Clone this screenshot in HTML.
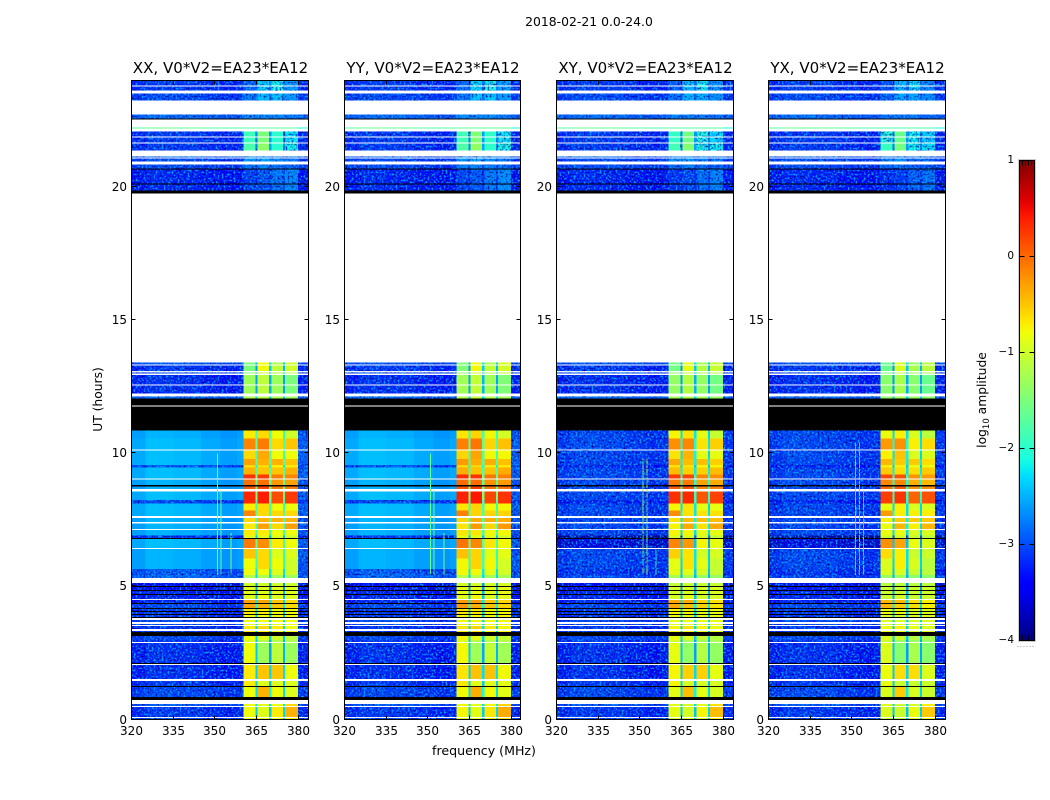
<!DOCTYPE html>
<html lang="en">
<head>
<meta charset="utf-8">
<title>Spectrogram 2018-02-21</title>
<style>
html,body{margin:0;padding:0;background:#fff;width:1050px;height:800px;overflow:hidden}
svg{display:block}
text{font-family:"DejaVu Sans","Liberation Sans",sans-serif;fill:#000}
</style>
</head>
<body>
<svg id="chart" xmlns="http://www.w3.org/2000/svg" width="1050" height="800" viewBox="0 0 1050 800">
  <defs>
    <filter id="speckle" filterUnits="objectBoundingBox" x="0" y="0" width="1" height="1" color-interpolation-filters="sRGB">
      <feTurbulence type="fractalNoise" baseFrequency="0.5" numOctaves="1" seed="3"/>
      <feColorMatrix type="matrix" values="0 0 0 0 0  0 0 0 0 0.62  0 0 0 0 1  4 0 0 0 -1.85"/>
    </filter>
    <filter id="speckle-dark" filterUnits="objectBoundingBox" x="0" y="0" width="1" height="1" color-interpolation-filters="sRGB">
      <feTurbulence type="fractalNoise" baseFrequency="0.5" numOctaves="1" seed="11"/>
      <feColorMatrix type="matrix" values="0 0 0 0 0  0 0 0 0 0  0 0 0 0 0.55  3 0 0 0 -1.5"/>
    </filter>
    <linearGradient id="jet-gradient" x1="0" y1="1" x2="0" y2="0"></linearGradient>
  </defs>
  <rect x="0" y="0" width="1050" height="800" fill="#fff"/>
  <text x="589" y="26" font-size="12.4" text-anchor="middle">2018-02-21 0.0-24.0</text>
  <text x="484" y="755" font-size="12.6" text-anchor="middle">frequency (MHz)</text>
  <text transform="translate(102,399.5) rotate(-90)" font-size="12.3" text-anchor="middle">UT (hours)</text>
  <text transform="translate(986,400) rotate(-90)" font-size="12.3" text-anchor="middle">log<tspan font-size="8.5" dy="3">10</tspan><tspan dy="-3"> amplitude</tspan></text>
  <g id="panels"></g>
  <g id="colorbar"></g>
</svg>
<script>
// ---- data ----
const panelTitles = ["XX, V0*V2=EA23*EA12", "YY, V0*V2=EA23*EA12", "XY, V0*V2=EA23*EA12", "YX, V0*V2=EA23*EA12"];
const panelLefts = [131.5, 344.5, 556.5, 768.5];
const panelWidths = [177, 176, 177, 177];
const panelBandShift = [0, 0.03, -0.05, -0.12];
const xTickLabels = [320, 335, 350, 365, 380];
const yTickLabels = [0, 5, 10, 15, 20];
const colorbarTicks = [1, 0, -1, -2, -3, -4];

// channel edges in MHz, and which column of a time row each channel reads
const channelEdges = [320, 325, 335, 345, 352, 358, 360.4, 364.6, 365.4, 369.6, 370.4, 374.6, 375.4, 380, 384];
const channelSource = ["bg", "bg", "bg", "bg", "bg", "bg", 0, "gap", 1, "gap", 2, "gap", 3, "tail"];
const backgroundShape = [-0.05, 0.06, 0.03, -0.04, -0.1, -0.05];

const W = null;   // no data: left white
const K = -9;     // flagged: drawn black

// [startHour, endHour, co-pol background, cross-pol background, band 1, band 2, band 3, band 4]
const timeRows = [
 [24.00,23.81,-3.2,-3.2,-2.9,-2.3,-2.1,-2.6],[23.81,23.77,W],[23.77,23.62,-3.2,-3.2,-2.9,-2.3,-2.1,-2.6],[23.62,23.51,W],
 [23.51,23.25,-3.1,-3.1,-2.8,-2.4,-2.4,-2.6],[23.25,22.72,W],[22.72,22.57,-2.9,-2.9,-2.7,-2.7,-2.7,-2.8],[22.57,22.53,K],
 [22.53,22.23,W],[22.23,22.20,-1.7,-1.7,-1.7,-1.7,-1.7,-1.7],[22.20,22.09,W],[22.09,21.90,-3.2,-3.2,-1.9,-1.5,-2.0,-2.2],
 [21.90,21.86,W],[21.86,21.67,-3.2,-3.2,-1.9,-1.5,-2.0,-2.2],[21.67,21.63,W],[21.63,21.37,-3.2,-3.2,-1.8,-1.4,-2.0,-2.1],
 [21.37,21.15,W],[21.15,21.11,-3.0,-3.0,-2.7,-2.7,-2.7,-2.8],[21.11,21.07,W],[21.07,20.96,-3.1,-3.1,-2.6,-2.5,-2.7,-2.8],
 [20.96,20.84,W],[20.84,20.69,-3.1,-3.1,-2.8,-2.7,-2.8,-2.9],[20.69,20.65,K],[20.65,20.13,-3.3,-3.3,-3.1,-3.0,-2.8,-2.7],
 [20.13,20.09,K],[20.09,19.87,-3.3,-3.3,-3.1,-3.0,-2.8,-2.7],[19.87,19.76,K],[19.76,13.41,W],
 [13.41,13.34,-3.0,-3.0,-1.5,-0.8,-1.2,-1.0],[13.34,13.30,W],[13.30,13.08,-3.2,-3.2,-1.5,-0.8,-1.1,-1.0],[13.08,13.04,W],
 [13.04,13.00,-3.1,-3.1,-1.4,-1.0,-1.2,-1.1],[13.00,12.93,W],[12.93,12.59,-3.25,-3.25,-1.3,-1.1,-1.3,-1.5],[12.59,12.55,W],
 [12.55,12.25,-3.25,-3.25,-1.3,-1.1,-1.3,-1.5],[12.25,12.14,W],[12.14,12.06,-2.9,-2.9,-1.2,-1.1,-1.2,-1.3],[12.06,11.80,K],
 [11.80,11.76,W],[11.76,10.86,K],
 [10.86,10.55,-2.55,-3.1,-0.7,-0.6,-0.8,-1.0],[10.55,10.15,-2.5,-3.1,-0.15,-0.1,-0.6,-0.5],[10.15,10.11,W],
 [10.11,9.78,-2.5,-3.1,-0.6,-0.35,-0.8,-0.8],[9.78,9.55,-2.5,-3.1,-0.3,-0.4,-0.4,-0.5],[9.55,9.47,-3.0,-3.3,-0.6,-0.6,-0.7,-0.7],
 [9.47,9.20,-2.5,-3.1,-0.4,-0.5,-0.5,-0.4],[9.20,9.06,-2.5,-3.1,0.3,0.25,-0.1,-0.15],[9.06,9.02,W],
 [9.02,8.80,-2.55,-3.1,-0.05,-0.05,-0.25,-0.3],[8.80,8.76,K],[8.76,8.65,-2.55,-3.1,0.1,0.2,-0.1,-0.1],[8.65,8.57,W],
 [8.57,8.24,-2.5,-3.1,0.35,0.4,0.15,0.25],[8.24,8.12,-3.1,-3.3,0.35,0.4,0.15,0.25],[8.12,7.85,-2.5,-3.1,-0.7,-0.6,-0.8,-0.8],
 [7.85,7.64,-2.5,-3.1,-0.15,-0.6,-0.6,-0.6],[7.64,7.56,W],[7.56,7.41,-2.55,-3.1,-0.6,-0.4,-0.4,-0.4],[7.41,7.37,W],
 [7.37,7.15,-2.55,-3.1,-0.7,-0.3,-0.6,-0.3],[7.15,7.11,W],[7.11,6.92,-2.55,-3.1,-0.7,-0.7,-0.8,-0.8],
 [6.92,6.81,-3.2,-3.9,-0.9,-0.9,-0.9,-1.0],[6.81,6.77,K],[6.77,6.44,-2.5,-3.6,-0.1,-0.2,-0.7,-0.8],[6.44,6.40,W],
 [6.40,6.05,-2.55,-3.1,-0.5,-0.6,-0.9,-0.9],[6.05,5.65,-2.55,-3.1,-0.8,-0.6,-0.8,-1.0],[5.65,5.42,-3.0,-3.2,-0.8,-0.8,-0.9,-1.0],
 [5.42,5.31,-2.9,-3.1,-1.2,-1.2,-1.3,-1.3],[5.31,5.12,W],
 [5.12,5.01,-3.5,-3.5,-1.0,-1.0,-1.0,-1.0],[5.01,4.97,K],[4.97,4.86,-3.5,-3.5,-0.9,-0.9,-0.9,-0.9],[4.86,4.82,K],
 [4.82,4.71,-3.3,-3.3,-0.9,-0.9,-0.9,-0.9],[4.71,4.67,K],[4.67,4.52,-3.3,-3.3,-0.9,-0.8,-0.9,-0.9],[4.52,4.48,W],
 [4.48,4.37,-3.3,-3.3,-0.3,-0.3,-0.5,-0.6],[4.37,4.33,K],[4.33,4.18,-3.1,-3.1,-0.3,-0.4,-0.5,-0.6],[4.18,4.15,K],
 [4.15,4.07,-3.2,-3.2,-0.7,-0.7,-0.8,-0.8],[4.07,4.03,K],[4.03,3.96,-3.2,-3.2,-0.7,-0.7,-0.8,-0.8],[3.96,3.92,K],
 [3.92,3.85,-3.2,-3.2,-0.8,-0.8,-0.8,-0.8],[3.85,3.81,K],[3.81,3.73,W],[3.73,3.66,-3.1,-3.1,-0.8,-0.8,-0.8,-0.8],
 [3.66,3.58,W],[3.58,3.55,-3.1,-3.1,-0.8,-0.8,-0.8,-0.8],[3.55,3.51,W],[3.51,3.40,-3.2,-3.2,-0.7,-0.6,-0.7,-0.8],
 [3.40,3.32,W],[3.32,3.28,-3.2,-3.2,-0.7,-0.7,-0.8,-0.8],[3.28,3.13,K],[3.13,2.98,-3.1,-3.1,-0.8,-0.9,-1.0,-1.1],
 [2.98,2.91,-3.2,-3.2,-0.9,-1.2,-1.2,-1.2],[2.91,2.87,W],[2.87,2.12,-3.25,-3.25,-0.8,-1.3,-1.1,-1.3],[2.12,2.08,K],
 [2.08,2.05,W],[2.05,1.52,-3.25,-3.25,-0.7,-0.5,-0.5,-0.8],[1.52,1.44,W],[1.44,1.26,-3.2,-3.2,-0.7,-0.9,-0.9,-0.9],
 [1.26,1.22,K],[1.22,0.84,-3.1,-3.1,-0.8,-0.4,-0.8,-0.9],[0.84,0.73,K],[0.73,0.58,W],[0.58,0.51,-3.0,-3.0,-0.8,-0.9,-0.8,-0.6],
 [0.51,0.47,W],[0.47,0.09,-3.2,-3.2,-0.8,-0.9,-0.7,-0.4],[0.09,0.06,W],[0.06,0.00,-3.1,-3.1,-0.9,-0.9,-0.8,-0.7]
];

// narrow interference lines: panel index, MHz, start hour, end hour, level
const rfiPanels = [0, 0, 0, 1, 1, 1, 2, 2, 2, 3, 3, 3];
const rfiFreqs  = [350.9, 352, 355.7, 350.9, 352, 355.7, 351, 352.4, 355.7, 351.2, 352.6, 354];
const rfiStarts = [5.42, 5.42, 5.42, 5.42, 5.42, 5.42, 5.42, 5.42, 5.42, 5.42, 5.42, 5.42];
const rfiEnds   = [10.0, 8.6, 7.0, 10.0, 8.6, 7.0, 9.8, 9.8, 6.4, 10.4, 10.4, 8.6];
const rfiLevels = [-1.6, -1.6, -1.5, -1.6, -1.6, -1.5, -1.3, -1.2, -1.9, -1.6, -1.7, -2.0];

// ---- axes ----
const PANEL_TOP = 80.5, PANEL_H = 639;
const xOf = function (mhz, left) { return left + (mhz - 320) * 2.775; };
const yOf = function (hour) { return PANEL_TOP + PANEL_H * (24 - hour) / 24; };
const SVG_NS = "http://www.w3.org/2000/svg";

function jetChannel(t, knots) {
  for (let i = 1; i < knots.length; i++) {
    if (t <= knots[i][0]) {
      const a = knots[i - 1], b = knots[i];
      return a[1] + (b[1] - a[1]) * (t - a[0]) / (b[0] - a[0]);
    }
  }
  return knots[knots.length - 1][1];
}
function jet(level) {
  const t = Math.max(0, Math.min(1, (level + 4) / 5));
  const r = jetChannel(t, [[0, 0], [0.35, 0], [0.66, 1], [0.89, 1], [1, 0.5]]);
  const g = jetChannel(t, [[0, 0], [0.125, 0], [0.375, 1], [0.64, 1], [0.91, 0], [1, 0]]);
  const b = jetChannel(t, [[0, 0.5], [0.11, 1], [0.34, 1], [0.65, 0], [1, 0]]);
  return "rgb(" + Math.round(r * 255) + "," + Math.round(g * 255) + "," + Math.round(b * 255) + ")";
}
function make(parent, tag, attrs) {
  const el = document.createElementNS(SVG_NS, tag);
  for (const k in attrs) el.setAttribute(k, attrs[k]);
  parent.appendChild(el);
  return el;
}

const panelsRoot = document.getElementById("panels");
const defs = document.querySelector("defs");

panelTitles.forEach(function (title, p) {
  const left = panelLefts[p];
  const PANEL_W = panelWidths[p];
  const isCross = p >= 2;
  const g = make(panelsRoot, "g", {});
  
  

  const clip = make(defs, "clipPath", { id: "speckle-clip-" + p });
  const cells = make(g, "g", { "shape-rendering": "crispEdges" });
  
  

  timeRows.forEach(function (row) {
    const y0 = yOf(row[0]), y1 = yOf(row[1]);
    const kind = row[2];
    if (kind === null) return;
    if (kind === K) {
      const blackRow = make(cells, "rect", { x: left, y: y0, width: PANEL_W, height: y1 - y0, fill: "#000" });
      
      
      return;
    }
    const bg = isCross ? row[3] : row[2];
    channelSource.forEach(function (src, c) {
      let level;
      if (src === "bg") level = bg + backgroundShape[c];
      else if (src === "tail") level = bg - (bg > -2.8 ? 0.45 : 0.05);
      else if (src === "gap") level = bg + 0.35 * (row[4 + (c - 7) / 2] + panelBandShift[p] - bg);
      else level = row[4 + src] + panelBandShift[p];
      const x0 = xOf(channelEdges[c], left);
      const x1 = Math.min(xOf(channelEdges[c + 1], left), left + PANEL_W);
      const cell = make(cells, "rect", { x: x0, y: y0, width: x1 - x0, height: y1 - y0, fill: jet(level) });
      
      
      const noisy = (typeof src === "number") ? level < -2.0 : level < -2.7;
      if (noisy) make(clip, "rect", { x: x0, y: y0, width: x1 - x0, height: y1 - y0 });
    });
  });

  rfiFreqs.forEach(function (mhz, i) {
    if (rfiPanels[i] !== p) return;
    const y0 = yOf(rfiEnds[i]), y1 = yOf(rfiStarts[i]);
    const line = make(cells, "rect", { x: xOf(mhz, left), y: y0, width: 1, height: y1 - y0, fill: jet(rfiLevels[i]) });
    
    
  });

  const speckleWrap = make(g, "g", { "clip-path": "url(#speckle-clip-" + p + ")" });
  
  
  make(speckleWrap, "rect", { x: left, y: PANEL_TOP, width: PANEL_W, height: PANEL_H, fill: "#000", filter: "url(#speckle)" });
  make(speckleWrap, "rect", { x: left, y: PANEL_TOP, width: PANEL_W, height: PANEL_H, fill: "#000", filter: "url(#speckle-dark)" });

  const frame = make(g, "rect", { x: left, y: PANEL_TOP, width: PANEL_W, height: PANEL_H, fill: "none", stroke: "#000", "stroke-width": 1, "shape-rendering": "crispEdges" });
  
  

  const titleEl = make(g, "text", { x: left + PANEL_W / 2 + 0.5, y: 73, "font-size": 15.05, "text-anchor": "middle" });
  titleEl.textContent = title;
  
  

  xTickLabels.forEach(function (v) {
    const x = Math.floor(xOf(v, left)) + 0.5;
    const tb = make(g, "line", { x1: x, x2: x, y1: PANEL_TOP + PANEL_H, y2: PANEL_TOP + PANEL_H - 4, stroke: "#000", "shape-rendering": "crispEdges" });
    
    
    const tt = make(g, "line", { x1: x, x2: x, y1: PANEL_TOP, y2: PANEL_TOP + 4, stroke: "#000", "shape-rendering": "crispEdges" });
    
    
    const lab = make(g, "text", { x: x, y: 735, "font-size": 12, "text-anchor": "middle" });
    lab.textContent = String(v);
    
    
  });

  yTickLabels.forEach(function (v) {
    const y = Math.round(yOf(v)) - 0.5;
    const tl = make(g, "line", { x1: left, x2: left + 4, y1: y, y2: y, stroke: "#000", "shape-rendering": "crispEdges" });
    
    
    const tr = make(g, "line", { x1: left + PANEL_W, x2: left + PANEL_W - 4, y1: y, y2: y, stroke: "#000", "shape-rendering": "crispEdges" });
    
    
    const lab = make(g, "text", { x: left - 4.5, y: y + 4.5, "font-size": 12, "text-anchor": "end" });
    lab.textContent = String(v);
    
    
  });
});

// ---- colorbar ----
const CB_X = 1019.5, CB_Y = 160.5, CB_W = 15, CB_H = 480;
const cbY = function (v) { return CB_Y + CB_H * (1 - v) / 5; };
const gradient = document.getElementById("jet-gradient");
for (let i = 0; i <= 50; i++) {
  make(gradient, "stop", { offset: i / 50, "stop-color": jet(-4 + 5 * i / 50) });
}
const cbRoot = document.getElementById("colorbar");
const cbFill = make(cbRoot, "rect", { x: CB_X, y: CB_Y, width: CB_W, height: CB_H, fill: "url(#jet-gradient)" });


const cbHalo = make(cbRoot, "rect", { x: CB_X - 1, y: CB_Y - 1, width: CB_W + 2, height: CB_H + 2, fill: "none", stroke: "#ccc", "shape-rendering": "crispEdges" });


const cbFrame = make(cbRoot, "rect", { x: CB_X, y: CB_Y, width: CB_W, height: CB_H, fill: "none", stroke: "#000", "shape-rendering": "crispEdges" });


colorbarTicks.forEach(function (v) {
  const y = cbY(v);
  const a = make(cbRoot, "line", { x1: CB_X, x2: CB_X + 5, y1: y, y2: y, stroke: "#000", "shape-rendering": "crispEdges" });
  
  
  const b = make(cbRoot, "line", { x1: CB_X + CB_W, x2: CB_X + CB_W - 5, y1: y, y2: y, stroke: "#000", "shape-rendering": "crispEdges" });
  
  
  const lab = make(cbRoot, "text", { x: 1014, y: y + 2.5, "font-size": 10.5, "text-anchor": "end" });
  lab.textContent = v < 0 ? "\u2212" + Math.abs(v) : String(v);
  
  
});
[3, 6, 9, 12].forEach(function (dx) {
  const top = make(cbRoot, "line", { x1: CB_X + dx, x2: CB_X + dx, y1: CB_Y, y2: CB_Y + 5, stroke: "#000", "shape-rendering": "crispEdges" });
  
  
  const bot = make(cbRoot, "line", { x1: CB_X + dx, x2: CB_X + dx, y1: CB_Y + CB_H, y2: CB_Y + CB_H - 5, stroke: "#000", "shape-rendering": "crispEdges" });
  
  
});
[0, 3, 6, 9, 12, 15].forEach(function (dx) {
  const dot = make(cbRoot, "rect", { x: 1017.5 + dx, y: 646, width: 1, height: 1, fill: "#999" });
  
  
});
</script>
</body>
</html>
